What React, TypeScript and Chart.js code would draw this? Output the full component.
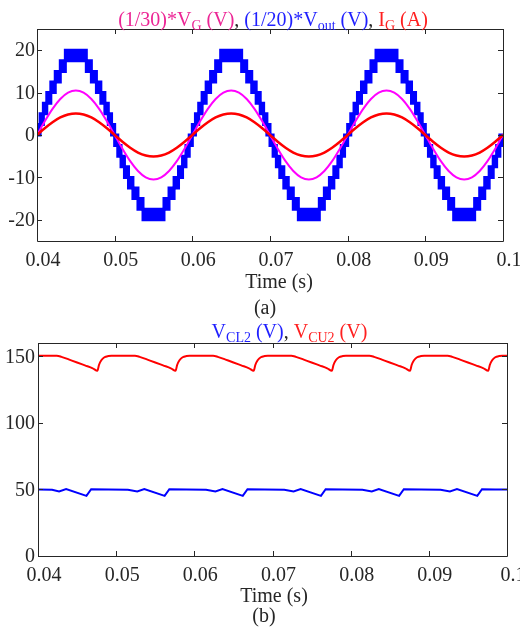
import React, { useEffect, useRef } from "react";
import { Chart, registerables } from "chart.js";
Chart.register(...registerables);

// ---------- tick values / labels ----------
const timeTicks = [0.04, 0.05, 0.06, 0.07, 0.08, 0.09, 0.1];
const timeTickLabels = ["0.04", "0.05", "0.06", "0.07", "0.08", "0.09", "0.1"];
const yTicksA = [-20, -10, 0, 10, 20];
const yTickLabelsA = ["-20", "-10", "0", "10", "20"];
const yTicksB = [0, 50, 100, 150];
const yTickLabelsB = ["0", "50", "100", "150"];

// ---------- chart (a) ----------
const sineTimes = [
  0.040, 0.041, 0.042, 0.043, 0.044, 0.045, 0.046, 0.047, 0.048, 0.049,
  0.050, 0.051, 0.052, 0.053, 0.054, 0.055, 0.056, 0.057, 0.058, 0.059,
  0.060, 0.061, 0.062, 0.063, 0.064, 0.065, 0.066, 0.067, 0.068, 0.069,
  0.070, 0.071, 0.072, 0.073, 0.074, 0.075, 0.076, 0.077, 0.078, 0.079,
  0.080, 0.081, 0.082, 0.083, 0.084, 0.085, 0.086, 0.087, 0.088, 0.089,
  0.090, 0.091, 0.092, 0.093, 0.094, 0.095, 0.096, 0.097, 0.098, 0.099,
  0.100,
];
const vgScaled = [
  0, 3.24, 6.17, 8.49, 9.99, 10.5, 9.99, 8.49, 6.17, 3.24,
  0, -3.24, -6.17, -8.49, -9.99, -10.5, -9.99, -8.49, -6.17, -3.24,
  0, 3.24, 6.17, 8.49, 9.99, 10.5, 9.99, 8.49, 6.17, 3.24,
  0, -3.24, -6.17, -8.49, -9.99, -10.5, -9.99, -8.49, -6.17, -3.24,
  0, 3.24, 6.17, 8.49, 9.99, 10.5, 9.99, 8.49, 6.17, 3.24,
  0, -3.24, -6.17, -8.49, -9.99, -10.5, -9.99, -8.49, -6.17, -3.24,
  0,
];
const igValues = [
  0, 1.58, 3.0, 4.13, 4.85, 5.1, 4.85, 4.13, 3.0, 1.58,
  0, -1.58, -3.0, -4.13, -4.85, -5.1, -4.85, -4.13, -3.0, -1.58,
  0, 1.58, 3.0, 4.13, 4.85, 5.1, 4.85, 4.13, 3.0, 1.58,
  0, -1.58, -3.0, -4.13, -4.85, -5.1, -4.85, -4.13, -3.0, -1.58,
  0, 1.58, 3.0, 4.13, 4.85, 5.1, 4.85, 4.13, 3.0, 1.58,
  0, -1.58, -3.0, -4.13, -4.85, -5.1, -4.85, -4.13, -3.0, -1.58,
  0,
];
// (1/20)*Vout : PWM between adjacent levels, given as low / high level per step segment
const voutTimes = [
  0.04, 0.0404, 0.04082, 0.04126, 0.04178, 0.04235, 0.043, 0.04365, 0.04635, 0.047,
  0.04765, 0.04822, 0.04874, 0.04918, 0.0496, 0.05, 0.0504, 0.05082, 0.05126, 0.05178,
  0.05235, 0.053, 0.05365, 0.05635, 0.057, 0.05765, 0.05822, 0.05874, 0.05918, 0.0596,
  0.06, 0.0604, 0.06082, 0.06126, 0.06178, 0.06235, 0.063, 0.06365, 0.06635, 0.067,
  0.06765, 0.06822, 0.06874, 0.06918, 0.0696, 0.07, 0.0704, 0.07082, 0.07126, 0.07178,
  0.07235, 0.073, 0.07365, 0.07635, 0.077, 0.07765, 0.07822, 0.07874, 0.07918, 0.0796,
  0.08, 0.0804, 0.08082, 0.08126, 0.08178, 0.08235, 0.083, 0.08365, 0.08635, 0.087,
  0.08765, 0.08822, 0.08874, 0.08918, 0.0896, 0.09, 0.0904, 0.09082, 0.09126, 0.09178,
  0.09235, 0.093, 0.09365, 0.09635, 0.097, 0.09765, 0.09822, 0.09874, 0.09918, 0.0996,
  0.1,
];
const voutLow = [
  0, 2.5, 5, 7.5, 10, 12.5, 15, 17.5, 15, 12.5, 10, 7.5, 5, 2.5, 0,
  -2.5, -5, -7.5, -10, -12.5, -15, -17.5, -20, -17.5, -15, -12.5, -10, -7.5, -5, -2.5,
  0, 2.5, 5, 7.5, 10, 12.5, 15, 17.5, 15, 12.5, 10, 7.5, 5, 2.5, 0,
  -2.5, -5, -7.5, -10, -12.5, -15, -17.5, -20, -17.5, -15, -12.5, -10, -7.5, -5, -2.5,
  0, 2.5, 5, 7.5, 10, 12.5, 15, 17.5, 15, 12.5, 10, 7.5, 5, 2.5, 0,
  -2.5, -5, -7.5, -10, -12.5, -15, -17.5, -20, -17.5, -15, -12.5, -10, -7.5, -5, -2.5,
  -2.5,
];
const voutHigh = [
  2.5, 5, 7.5, 10, 12.5, 15, 17.5, 20, 17.5, 15, 12.5, 10, 7.5, 5, 2.5,
  0, -2.5, -5, -7.5, -10, -12.5, -15, -17.5, -15, -12.5, -10, -7.5, -5, -2.5, 0,
  2.5, 5, 7.5, 10, 12.5, 15, 17.5, 20, 17.5, 15, 12.5, 10, 7.5, 5, 2.5,
  0, -2.5, -5, -7.5, -10, -12.5, -15, -17.5, -15, -12.5, -10, -7.5, -5, -2.5, 0,
  2.5, 5, 7.5, 10, 12.5, 15, 17.5, 20, 17.5, 15, 12.5, 10, 7.5, 5, 2.5,
  0, -2.5, -5, -7.5, -10, -12.5, -15, -17.5, -15, -12.5, -10, -7.5, -5, -2.5, 0,
  0,
];

// ---------- chart (b) ----------
const vcuTimes = [
  0.0400, 0.0424, 0.0430, 0.0440, 0.0450, 0.0460, 0.0470, 0.0476, 0.0478, 0.0481, 0.0485, 0.0490, 0.0494,
  0.0524, 0.0530, 0.0540, 0.0550, 0.0560, 0.0570, 0.0576, 0.0578, 0.0581, 0.0585, 0.0590, 0.0594,
  0.0624, 0.0630, 0.0640, 0.0650, 0.0660, 0.0670, 0.0676, 0.0678, 0.0681, 0.0685, 0.0690, 0.0694,
  0.0724, 0.0730, 0.0740, 0.0750, 0.0760, 0.0770, 0.0776, 0.0778, 0.0781, 0.0785, 0.0790, 0.0794,
  0.0824, 0.0830, 0.0840, 0.0850, 0.0860, 0.0870, 0.0876, 0.0878, 0.0881, 0.0885, 0.0890, 0.0894,
  0.0924, 0.0930, 0.0940, 0.0950, 0.0960, 0.0970, 0.0976, 0.0978, 0.0981, 0.0985, 0.0990, 0.0994,
  0.1000,
];
const vcu2 = [
  150.4, 150.4, 149.6, 147.5, 145.4, 143.2, 141.0, 139.2, 143.5, 147.0, 149.3, 150.2, 150.4,
  150.4, 149.6, 147.5, 145.4, 143.2, 141.0, 139.2, 143.5, 147.0, 149.3, 150.2, 150.4,
  150.4, 149.6, 147.5, 145.4, 143.2, 141.0, 139.2, 143.5, 147.0, 149.3, 150.2, 150.4,
  150.4, 149.6, 147.5, 145.4, 143.2, 141.0, 139.2, 143.5, 147.0, 149.3, 150.2, 150.4,
  150.4, 149.6, 147.5, 145.4, 143.2, 141.0, 139.2, 143.5, 147.0, 149.3, 150.2, 150.4,
  150.4, 149.6, 147.5, 145.4, 143.2, 141.0, 139.2, 143.5, 147.0, 149.3, 150.2, 150.4,
  150.4,
];
const vclTimes = [
  0.0400, 0.0418, 0.0427, 0.0436, 0.0462, 0.0468, 0.0490,
  0.0515, 0.0527, 0.0536, 0.0562, 0.0568, 0.0590,
  0.0615, 0.0627, 0.0636, 0.0662, 0.0668, 0.0690,
  0.0715, 0.0727, 0.0736, 0.0762, 0.0768, 0.0790,
  0.0815, 0.0827, 0.0836, 0.0862, 0.0868, 0.0890,
  0.0915, 0.0927, 0.0936, 0.0962, 0.0968, 0.0985,
  0.1000,
];
const vcl2 = [
  49.9, 49.7, 48.5, 50.2, 45.2, 50.2, 50.0,
  49.7, 48.5, 50.2, 45.2, 50.2, 50.0,
  49.7, 48.5, 50.2, 45.2, 50.2, 50.0,
  49.7, 48.5, 50.2, 45.2, 50.2, 50.0,
  49.7, 48.5, 50.2, 45.2, 50.2, 50.0,
  49.7, 48.5, 50.2, 45.2, 50.2, 50.0,
  49.9,
];

// ---------- styling ----------
const FONT = '"Liberation Serif", "Times New Roman", serif';
const AXIS = "#262626";
const BLUE = "#0000ff";
const MAGENTA = "#ff00ff";
const RED = "#ff0000";
const T_PINK = "#ec2595";
const T_BLUE = "#1f1fff";
const T_RED = "#ff1f1f";

type Seg = { text: string; color: string; sub?: boolean };
const titleA: Seg[] = [
  { text: "(1/30)*V", color: T_PINK },
  { text: "G", color: T_PINK, sub: true },
  { text: " (V)", color: T_PINK },
  { text: ", ", color: AXIS },
  { text: "(1/20)*V", color: T_BLUE },
  { text: "out", color: T_BLUE, sub: true },
  { text: " (V)", color: T_BLUE },
  { text: ", ", color: AXIS },
  { text: "I", color: T_RED },
  { text: "G", color: T_RED, sub: true },
  { text: " (A)", color: T_RED },
];
const titleB: Seg[] = [
  { text: "V", color: T_BLUE },
  { text: "CL2", color: T_BLUE, sub: true },
  { text: " (V)", color: T_BLUE },
  { text: ", ", color: AXIS },
  { text: "V", color: T_RED },
  { text: "CU2", color: T_RED, sub: true },
  { text: " (V)", color: T_RED },
];

function drawRich(ctx: CanvasRenderingContext2D, segs: Seg[], cx: number, base: number) {
  const fontOf = (s: Seg) => `${s.sub ? 14 : 20}px ${FONT}`;
  let total = 0;
  segs.forEach((s) => {
    ctx.font = fontOf(s);
    total += ctx.measureText(s.text).width;
  });
  let x = cx - total / 2;
  ctx.textAlign = "left";
  ctx.textBaseline = "alphabetic";
  segs.forEach((s) => {
    ctx.font = fontOf(s);
    ctx.fillStyle = s.color;
    ctx.fillText(s.text, x, base + (s.sub ? 4 : 0));
    x += ctx.measureText(s.text).width;
  });
}

const framePlugin = {
  id: "frameText",
  afterDraw(chart: any, _args: any, opts: any) {
    const { ctx, chartArea: a, scales } = chart;
    ctx.save();
    ctx.strokeStyle = AXIS;
    ctx.lineWidth = 1;
    ctx.beginPath();
    ctx.rect(Math.round(a.left) + 0.5, Math.round(a.top) + 0.5, Math.round(a.right - a.left), Math.round(a.bottom - a.top));
    const tl = 5;
    scales.x.ticks.forEach((t: any) => {
      const px = Math.round(scales.x.getPixelForValue(t.value)) + 0.5;
      ctx.moveTo(px, a.bottom);
      ctx.lineTo(px, a.bottom - tl);
      ctx.moveTo(px, a.top);
      ctx.lineTo(px, a.top + tl);
    });
    scales.y.ticks.forEach((t: any) => {
      const py = Math.round(scales.y.getPixelForValue(t.value)) + 0.5;
      ctx.moveTo(a.left, py);
      ctx.lineTo(a.left + tl, py);
      ctx.moveTo(a.right, py);
      ctx.lineTo(a.right - tl, py);
    });
    ctx.stroke();
    drawRich(ctx, opts.title, opts.titleX, opts.titleY);
    ctx.font = `20px ${FONT}`;
    ctx.fillStyle = AXIS;
    ctx.textAlign = "center";
    ctx.textBaseline = "alphabetic";
    ctx.fillText("Time (s)", opts.xTitleX, opts.xTitleY);
    ctx.fillText(opts.caption, opts.captionX, opts.captionY);
    ctx.restore();
  },
};

function pts(xs: number[], ys: number[]) {
  return xs.map((x, i) => ({ x, y: ys[i] }));
}

function makeOptions(p: {
  yMin: number; yMax: number; yTicks: number[]; yLabels: string[];
  yWidth: number; xHeight: number; top: number; right: number; yPad: number; plug: any;
}) {
  return {
    responsive: false,
    animation: false as const,
    devicePixelRatio: 1,
    layout: { padding: { top: p.top, right: p.right, left: 0, bottom: 0 } },
    plugins: { legend: { display: false }, tooltip: { enabled: false }, title: { display: false }, frameText: p.plug },
    elements: { point: { radius: 0 } },
    scales: {
      x: {
        type: "linear" as const,
        min: 0.04,
        max: 0.1,
        grid: { display: false, drawTicks: false },
        border: { display: false },
        afterBuildTicks: (s: any) => { s.ticks = timeTicks.map((v) => ({ value: v })); },
        afterFit: (s: any) => { s.height = p.xHeight; s.paddingLeft = 0; s.paddingRight = 0; },
        ticks: {
          autoSkip: false,
          maxRotation: 0,
          padding: 8,
          labelOffset: 6,
          color: AXIS,
          font: { family: FONT, size: 20 },
          callback: (_v: any, i: number) => timeTickLabels[i],
        },
      },
      y: {
        type: "linear" as const,
        min: p.yMin,
        max: p.yMax,
        grid: { display: false, drawTicks: false },
        border: { display: false },
        afterBuildTicks: (s: any) => { s.ticks = p.yTicks.map((v) => ({ value: v })); },
        afterFit: (s: any) => { s.width = p.yWidth; s.paddingTop = 0; s.paddingBottom = 0; },
        ticks: {
          autoSkip: false,
          padding: p.yPad,
          labelOffset: 1,
          color: AXIS,
          font: { family: FONT, size: 20 },
          callback: (_v: any, i: number) => p.yLabels[i],
        },
      },
    },
  };
}

export default function App() {
  const refA = useRef<HTMLCanvasElement>(null);
  const refB = useRef<HTMLCanvasElement>(null);

  useEffect(() => {
    const chartA = new Chart(refA.current!, {
      type: "line",
      data: {
        datasets: [
          { data: pts(sineTimes, igValues), borderColor: RED, borderWidth: 2.5, cubicInterpolationMode: "monotone", fill: false },
          { data: pts(sineTimes, vgScaled), borderColor: MAGENTA, borderWidth: 2, cubicInterpolationMode: "monotone", fill: false },
          { data: pts(voutTimes, voutLow), borderColor: BLUE, backgroundColor: BLUE, borderWidth: 3, stepped: true, fill: "+1" },
          { data: pts(voutTimes, voutHigh), borderColor: BLUE, borderWidth: 3, stepped: true, fill: false },
        ],
      } as any,
      options: makeOptions({
        yMin: -25, yMax: 25, yTicks: yTicksA, yLabels: yTickLabelsA,
        yWidth: 37, xHeight: 81, top: 29, right: 17, yPad: 2,
        plug: { title: titleA, titleX: 273, titleY: 26, xTitleX: 279, xTitleY: 288, caption: "(a)", captionX: 265, captionY: 314 },
      }) as any,
      plugins: [framePlugin],
    });
    const chartB = new Chart(refB.current!, {
      type: "line",
      data: {
        datasets: [
          { data: pts(vcuTimes, vcu2), borderColor: RED, borderWidth: 2, cubicInterpolationMode: "monotone", fill: false },
          { data: pts(vclTimes, vcl2), borderColor: BLUE, borderWidth: 2, fill: false },
        ],
      } as any,
      options: makeOptions({
        yMin: 0, yMax: 160, yTicks: yTicksB, yLabels: yTickLabelsB,
        yWidth: 38, xHeight: 77, top: 21, right: 13, yPad: 3,
        plug: { title: titleB, titleX: 289.5, titleY: 16, xTitleX: 274, xTitleY: 280, caption: "(b)", captionX: 264, captionY: 300 },
      }) as any,
      plugins: [framePlugin],
    });
    return () => {
      chartA.destroy();
      chartB.destroy();
    };
  }, []);

  return (
    <div style={{ position: "absolute", left: 0, top: 0, width: 520, height: 633, background: "#fff" }}>
      <canvas ref={refA} width={520} height={322} style={{ display: "block", width: 520, height: 322 }} />
      <canvas ref={refB} width={520} height={311} style={{ display: "block", width: 520, height: 311 }} />
    </div>
  );
}
